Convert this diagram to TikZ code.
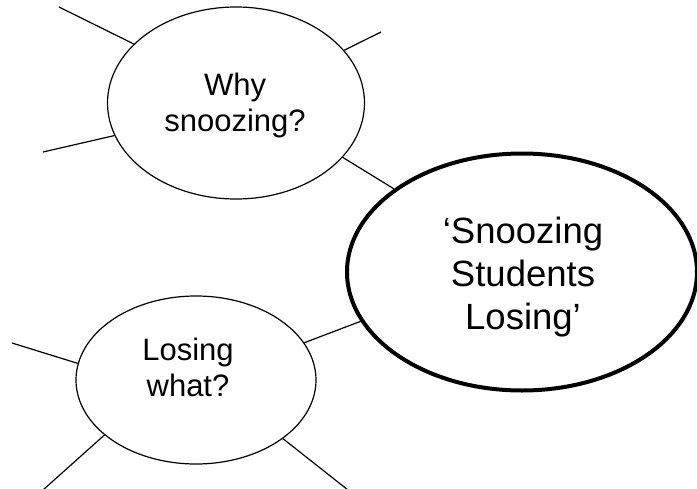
\documentclass[tikz,border=0pt]{standalone}
\usepackage{fontspec}
\setmainfont{Liberation Sans}
\usetikzlibrary{shapes.geometric}
\begin{document}
\begin{tikzpicture}[x=1pt,y=-1pt,
  bubble/.style={ellipse, draw, line width=1.2pt, inner sep=0pt},
  mainbubble/.style={ellipse, draw, line width=4pt, inner sep=0pt},
  spoke/.style={line width=1.2pt},
  smalltext/.style={align=center, font=\fontsize{31}{36}\selectfont, inner sep=0pt},
  bigtext/.style={align=center, font=\fontsize{36.5}{43}\selectfont, inner sep=0pt}]
\useasboundingbox (0,0) rectangle (697,488);
% bubbles
\node[bubble, minimum width=257pt, minimum height=192pt] (why) at (236,103) {};
\node[mainbubble, minimum width=350pt, minimum height=237pt] (main) at (522,272) {};
\node[bubble, minimum width=240pt, minimum height=168pt] (lose) at (196,380) {};
% texts
\node[smalltext] (whytext) at (235,105) {Why\\snoozing?};
\node[bigtext] (maintext) at (523,277) {‘Snoozing\\Students\\Losing’};
\node[smalltext] (losetext) at (188,367) {Losing\\what?};
% free ends
\coordinate (w1) at (59,7);
\coordinate (w2) at (381,32);
\coordinate (w3) at (43,152);
\coordinate (l1) at (12,343);
\coordinate (l2) at (43,490);
\coordinate (l3) at (348,490);
% spokes
\draw[spoke] (w1) -- (why.150);
\draw[spoke] (w2) -- (why.26);
\draw[spoke] (w3) -- (why.195);
\draw[spoke] (why.-27) -- (main.147);
\draw[spoke] (lose.19) -- (main.197);
\draw[spoke] (l1) -- (lose.172);
\draw[spoke] (l2) -- (lose.211);
\draw[spoke] (l3) -- (lose.-34);
\end{tikzpicture}
\end{document}
